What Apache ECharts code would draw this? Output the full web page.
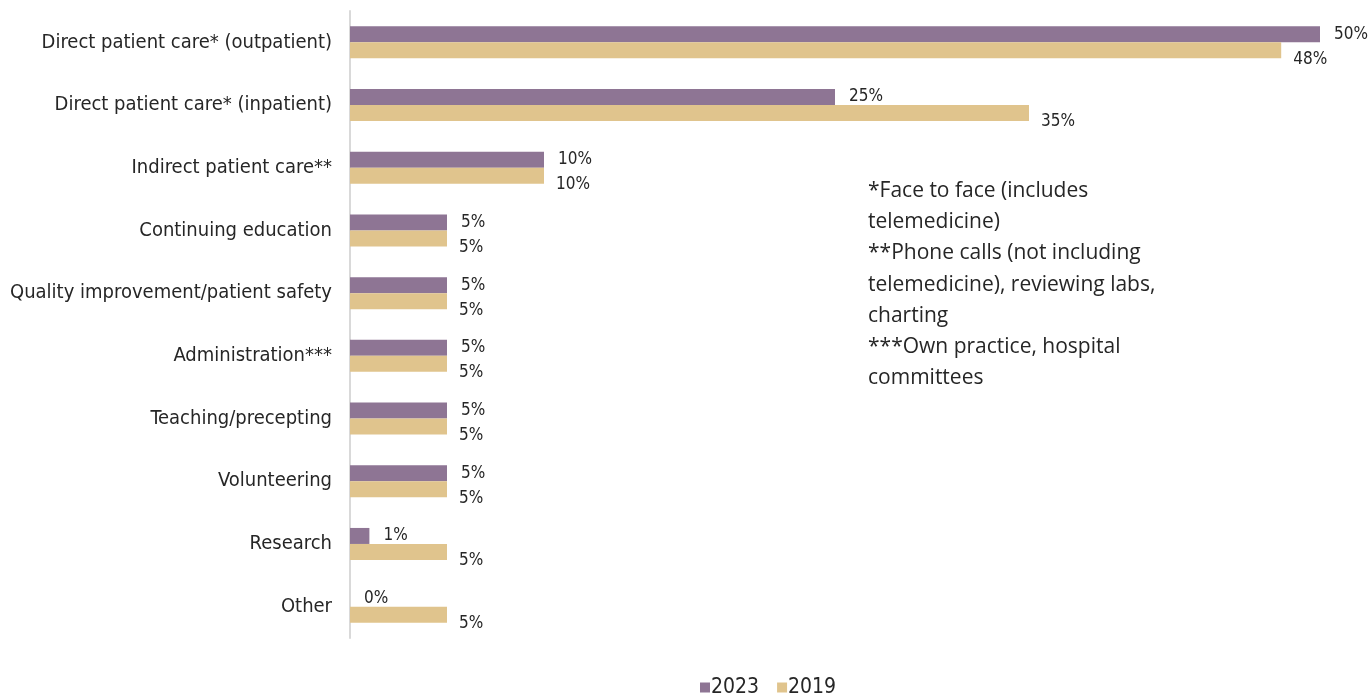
<!DOCTYPE html>
<html>
<head>
<meta charset="utf-8">
<script src="https://cdn.jsdelivr.net/npm/echarts@6/dist/echarts.min.js"></script>
<style>
  html, body { margin: 0; padding: 0; background: #fff; }
  #chart { width: 1369px; height: 695px; }
</style>
</head>
<body>
<div id="chart"></div>
<script>
// Share of work time by activity, 2023 vs 2019
const categories = [
  'Direct patient care* (outpatient)',
  'Direct patient care* (inpatient)',
  'Indirect patient care**',
  'Continuing education',
  'Quality improvement/patient safety',
  'Administration***',
  'Teaching/precepting',
  'Volunteering',
  'Research',
  'Other'
];
const values2023 = [50, 25, 10, 5, 5, 5, 5, 5, 1, 0];
const values2019 = [48, 35, 10, 5, 5, 5, 5, 5, 5, 5];
const footnotes = [
  '*Face to face (includes',
  'telemedicine)',
  '**Phone calls (not including',
  'telemedicine), reviewing labs,',
  'charting',
  '***Own practice, hospital',
  'committees'
];

const narrow = '"Liberation Sans Narrow", "DejaVu Sans Condensed", Arial, sans-serif';
const textColor = '#262626';

const chart = echarts.init(document.getElementById('chart'));
chart.setOption({
  animation: false,
  grid: { left: 350, right: 49, top: 11, bottom: 57, containLabel: false },
  xAxis: {
    type: 'value', min: 0, max: 50,
    show: false
  },
  yAxis: {
    type: 'category',
    data: categories,
    inverse: true,
    axisLine: { show: true, lineStyle: { color: '#d9d9d9', width: 2 } },
    axisTick: { show: false },
    axisLabel: { color: textColor, fontFamily: narrow, fontSize: 20, margin: 18 }
  },
  legend: {
    top: 677,
    left: 700,
    itemWidth: 10,
    itemHeight: 10,
    itemGap: 18,
    icon: 'rect',
    padding: 0,
    textStyle: { color: textColor, fontFamily: narrow, fontSize: 21, padding: [0, 0, 0, -4] },
    data: ['2023', '2019']
  },
  series: [
    {
      name: '2023',
      type: 'bar',
      data: values2023,
      barWidth: 16,
      barGap: '0%',
      itemStyle: { color: '#8e7594' },
      label: {
        show: true, position: 'right', distance: 14, offset: [0, 0],
        formatter: '{c}%', color: textColor, fontFamily: narrow, fontSize: 17
      }
    },
    {
      name: '2019',
      type: 'bar',
      data: values2019,
      barWidth: 16,
      itemStyle: { color: '#e0c48d' },
      label: {
        show: true, position: 'right', distance: 12, offset: [0, 9],
        formatter: '{c}%', color: textColor, fontFamily: narrow, fontSize: 17
      }
    }
  ],
  graphic: [{
    type: 'text',
    left: 868,
    top: 175,
    style: {
      text: footnotes.join('\n'),
      fill: '#262626',
      font: '21px "Open Sans", Lato, sans-serif',
      lineHeight: 31.3
    }
  }]
});
</script>
</body>
</html>
